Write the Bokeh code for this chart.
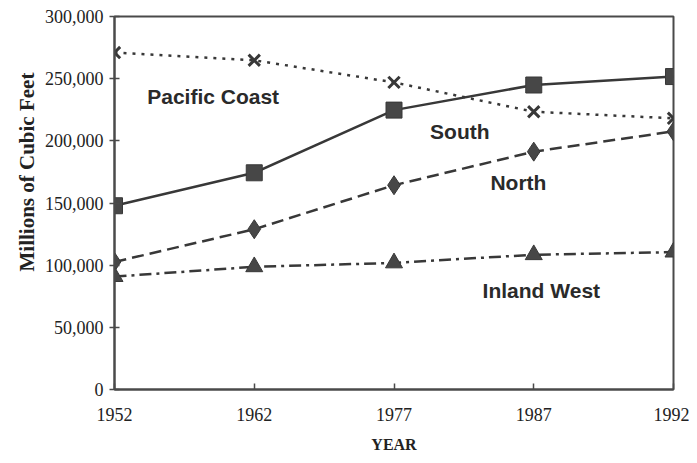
from bokeh.plotting import figure
from bokeh.models import Range1d, FixedTicker, NumeralTickFormatter, Label, Title
from bokeh.embed import file_html
from bokeh.resources import INLINE

years = ["1952", "1962", "1977", "1987", "1992"]
pacific_coast = [271000, 264800, 247000, 223400, 218100]
south = [147800, 174300, 224700, 244900, 251700]
north = [102600, 128900, 164300, 191300, 207600]
inland_west = [90800, 98700, 101800, 108400, 110500]

xs = list(range(len(years)))
INK = "#383838"
FILL = "#474747"

p = figure(width=689, height=455, output_backend="svg", toolbar_location=None,
           x_range=Range1d(0, len(years) - 1), y_range=Range1d(0, 300000),
           min_border_left=114, min_border_right=16, min_border_top=16, min_border_bottom=64)
p.background_fill_color = "white"
p.border_fill_color = "white"
p.outline_line_color = "#4a4a4a"
p.outline_line_width = 2
p.xgrid.visible = False
p.ygrid.visible = False

p.xaxis.ticker = FixedTicker(ticks=xs)
p.xaxis.major_label_overrides = {i: y for i, y in enumerate(years)}
p.yaxis.ticker = FixedTicker(ticks=[0, 50000, 100000, 150000, 200000, 250000, 300000])
p.yaxis.formatter = NumeralTickFormatter(format="0,0")

for ax in (p.xaxis, p.yaxis):
    ax.axis_line_color = "#4a4a4a"
    ax.axis_line_width = 2
    ax.major_tick_line_color = "#4a4a4a"
    ax.major_tick_line_width = 1.5
    ax.minor_tick_line_color = None
    ax.major_label_text_font = "Liberation Serif"
    ax.major_label_text_font_size = "18px"
    ax.major_label_text_color = "#222222"
    ax.axis_label_text_font = "Liberation Serif"
    ax.axis_label_text_font_style = "bold"
    ax.axis_label_text_color = "#222222"

p.xaxis.major_tick_in = 6
p.xaxis.major_tick_out = 0
p.xaxis.major_label_standoff = 18
p.xaxis.axis_label = "YEAR"
p.xaxis.axis_label_text_font_size = "16px"
p.xaxis.axis_label_standoff = 12

p.yaxis.major_tick_in = 5
p.yaxis.major_tick_out = 5
p.yaxis.major_label_standoff = 6

# y-axis title as a left-side title, raised above the frame centre like the original
ytitle = Title(text="Millions of Cubic Feet", align="left", offset=118, standoff=6,
               text_font="Liberation Serif", text_font_style="bold",
               text_font_size="21px", text_color="#222222")
p.add_layout(ytitle, "left")

# Pacific Coast: dotted with x markers
p.line(xs, pacific_coast, line_color=INK, line_width=2.5, line_dash="3 6")
p.scatter(xs, pacific_coast, marker="x", size=16, line_color=INK, line_width=3)

# South: solid with squares
p.line(xs, south, line_color=INK, line_width=2.5)
p.scatter(xs, south, marker="square", size=16, fill_color=FILL, line_color=INK)

# North: dashed with diamonds
p.line(xs, north, line_color=INK, line_width=2.5, line_dash="12 6")
p.scatter(xs, north, marker="diamond", size=19, fill_color=FILL, line_color=INK)

# Inland West: dash-dot with triangles
p.line(xs, inland_west, line_color=INK, line_width=2.5, line_dash="12 5 3 5")
p.scatter(xs, inland_west, marker="triangle", size=17, fill_color=FILL, line_color=INK)

labels = [("Pacific Coast", 0.234, 235400), ("South", 2.258, 207900),
          ("North", 2.69, 166100), ("Inland West", 2.634, 79500)]
for txt, lx, ly in labels:
    p.add_layout(Label(x=lx, y=ly, text=txt, text_font="Liberation Sans",
                       text_font_style="bold", text_font_size="21px",
                       text_color="#2a2a2a", text_baseline="middle", text_align="left"))

open("out.html", "w").write(file_html(p, INLINE))
